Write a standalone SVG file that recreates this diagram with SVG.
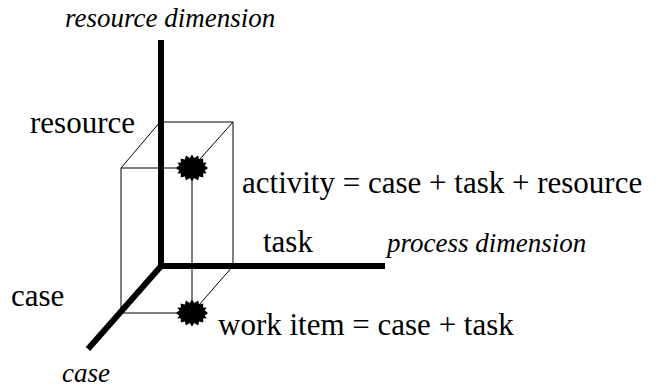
<svg xmlns="http://www.w3.org/2000/svg" width="659" height="387" viewBox="0 0 659 387">
<style>
.thin{stroke:#000;stroke-width:1;fill:none}
.axis{stroke:#000;stroke-width:6;fill:none;stroke-linecap:butt}
text{font-family:'Liberation Serif','Tinos','Times New Roman','Times','Noto Serif','DejaVu Serif','FreeSerif','Nimbus Roman',serif;fill:#000}
.lbl{font-size:31px}
.it{font-size:27px;font-style:italic}
</style>
<defs>
<polygon id="star" points="16,0 12.6,3.1 14.8,6.1 11.1,6.6 11.3,11.3 7.1,9.9 6.1,14.8 2.3,11.8 0,16 -2.3,11.8 -6.1,14.8 -7.1,9.9 -11.3,11.3 -11.1,6.6 -14.8,6.1 -12.6,3.1 -16,0 -12.6,-3.1 -14.8,-6.1 -11.1,-6.6 -11.3,-11.3 -7.1,-9.9 -6.1,-14.8 -2.3,-11.8 0,-16 2.3,-11.8 6.1,-14.8 7.1,-9.9 11.3,-11.3 11.1,-6.6 14.8,-6.1 12.6,-3.1" transform="scale(1,0.85)"/>
</defs>
<g id="connectors">
<g id="box">
<line class="thin" x1="160" y1="122" x2="233" y2="122"/>
<line class="thin" x1="121" y1="168" x2="160" y2="122"/>
<line class="thin" x1="233" y1="122" x2="192" y2="168"/>
<line class="thin" x1="121" y1="168" x2="192" y2="168"/>
<line class="thin" x1="121" y1="168" x2="121" y2="313"/>
<line class="thin" x1="192" y1="168" x2="192" y2="313"/>
<line class="thin" x1="233" y1="122" x2="233" y2="266"/>
<line class="thin" x1="121" y1="313" x2="192" y2="313"/>
<line class="thin" x1="233" y1="266" x2="192" y2="313"/>
</g>
<g id="axes">
<line class="axis" x1="161" y1="40" x2="161" y2="269"/>
<line class="axis" x1="158" y1="266" x2="385" y2="266"/>
<line class="axis" x1="162" y1="265" x2="88" y2="349"/>
</g>
</g>
<g id="activity">
<use href="#star" x="192" y="168"/>
<text class="lbl" x="242" y="193">activity = case + task + resource</text>
</g>
<g id="workitem">
<use href="#star" x="192" y="313"/>
<text class="lbl" x="218" y="335">work item = case + task</text>
</g>
<g id="labels">
<text class="it" x="65" y="27">resource dimension</text>
<text class="lbl" x="30" y="133">resource</text>
<text class="lbl" x="263" y="252">task</text>
<text class="it" x="387" y="252">process dimension</text>
<text class="lbl" x="11" y="306">case</text>
<text class="it" x="62" y="382">case</text>
</g>
</svg>
